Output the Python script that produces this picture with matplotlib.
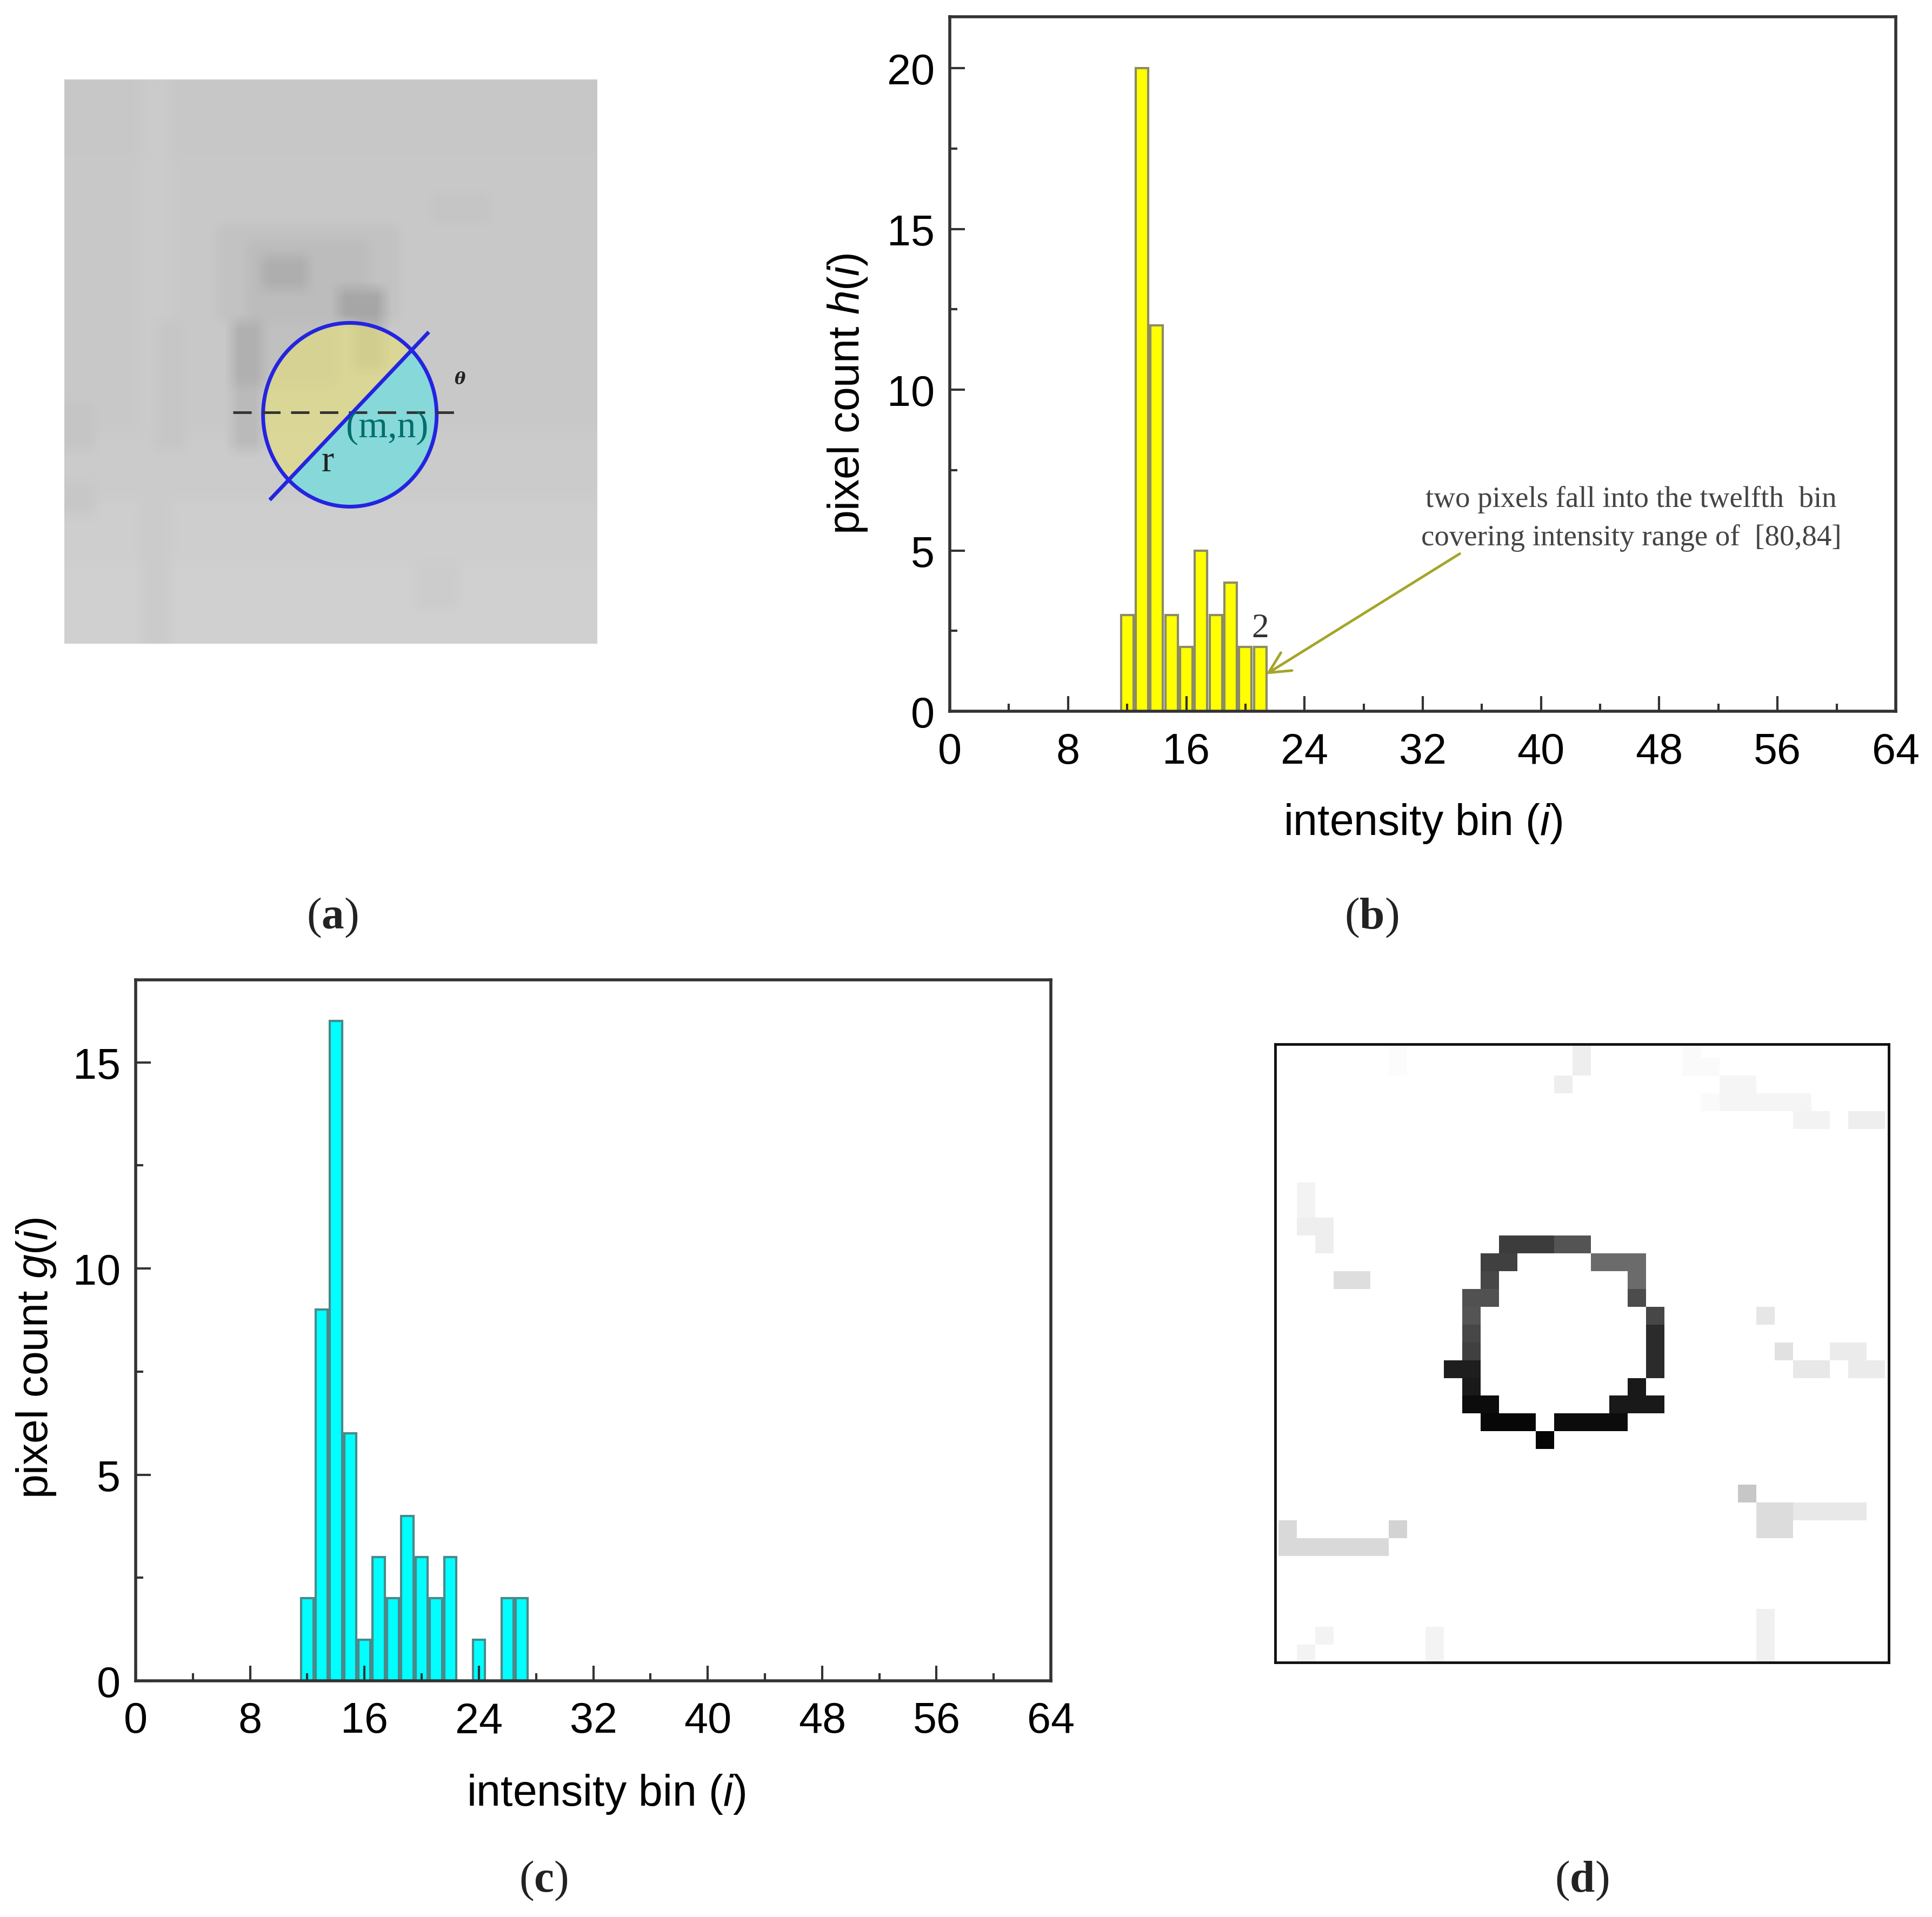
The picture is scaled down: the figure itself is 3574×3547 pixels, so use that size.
import numpy as np
import matplotlib
matplotlib.use('Agg')
import matplotlib.pyplot as plt
from matplotlib.patches import Wedge, Circle

plt.rcParams['font.family'] = ['Liberation Sans', 'DejaVu Sans']
plt.rcParams['mathtext.fontset'] = 'custom'
plt.rcParams['mathtext.rm'] = 'Liberation Sans'
plt.rcParams['mathtext.it'] = 'Liberation Sans:italic'
plt.rcParams['mathtext.bf'] = 'Liberation Serif:bold'

W, H = 3574, 3548

# histogramas
bins_h = [12, 13, 14, 15, 16, 17, 18, 19, 20, 21]
counts_h = [3, 20, 12, 3, 2, 5, 3, 4, 2, 2]
bins_g = [12, 13, 14, 15, 16, 17, 18, 19, 20, 21, 22, 24, 26, 27]
counts_g = [2, 9, 16, 6, 1, 3, 2, 4, 3, 2, 3, 1, 2, 2]
x_ticks = [0, 8, 16, 24, 32, 40, 48, 56, 64]

# imagen (a): fondo gris, bloques (fila0, fila1, col0, col1, gris)
patch_base = 0.785
patches_a = [
    (0, 5, 0, 35, 0.78),
    (22, 26, 0, 35, 0.795),
    (26, 30, 0, 35, 0.805),
    (30, 35, 0, 35, 0.815),
    (0, 35, 5, 7, 0.795),
    (7, 9, 24, 28, 0.77),
    (9, 15, 10, 22, 0.76),
    (10, 15, 12, 20, 0.735),
    (11, 13, 13, 16, 0.68),
    (13, 15, 18, 21, 0.65),
    (15, 19, 11, 13, 0.69),
    (19, 23, 11, 13, 0.73),
    (15, 19, 13, 18, 0.75),
    (15, 18, 19, 21, 0.71),
    (20, 23, 0, 2, 0.77),
    (15, 23, 6, 8, 0.775),
    (25, 27, 0, 2, 0.78),
    (30, 33, 23, 26, 0.80),
]

# imagen (d): bloques (fila, col0, col1, gris)
ring_pixels = [
    (11, 12, 14, 0.24), (11, 15, 16, 0.33),
    (12, 11, 12, 0.25), (12, 17, 19, 0.42),
    (13, 11, 11, 0.28), (13, 19, 19, 0.42),
    (14, 10, 11, 0.32), (14, 19, 19, 0.30),
    (15, 10, 10, 0.33), (15, 20, 20, 0.28),
    (16, 10, 10, 0.28), (16, 20, 20, 0.17),
    (17, 10, 10, 0.25), (17, 20, 20, 0.17),
    (18, 9, 10, 0.12), (18, 20, 20, 0.17),
    (19, 10, 10, 0.10), (19, 19, 19, 0.10),
    (20, 10, 11, 0.05), (20, 18, 20, 0.10),
    (21, 11, 13, 0.03), (21, 15, 18, 0.05),
    (22, 14, 14, 0.02),
]
noise_pixels = [
    (0, 6, 6, 0.985), (1, 6, 6, 0.985),
    (0, 16, 16, 0.93), (1, 16, 16, 0.93), (2, 15, 15, 0.93),
    (0, 22, 22, 0.98), (1, 22, 23, 0.98), (2, 24, 25, 0.96),
    (3, 23, 23, 0.98), (3, 24, 28, 0.96), (4, 28, 29, 0.95), (4, 31, 32, 0.93),
    (8, 1, 1, 0.95), (9, 1, 1, 0.95), (10, 1, 2, 0.93), (11, 2, 2, 0.93),
    (13, 3, 4, 0.87), (15, 26, 26, 0.90), (17, 27, 27, 0.88),
    (17, 30, 31, 0.92), (18, 28, 29, 0.91), (18, 31, 32, 0.92),
    (25, 25, 25, 0.78), (26, 26, 27, 0.86), (26, 28, 31, 0.91), (27, 26, 27, 0.86),
    (27, 0, 0, 0.85), (27, 6, 6, 0.83), (28, 0, 5, 0.85),
    (32, 26, 26, 0.94), (33, 26, 26, 0.94), (34, 26, 26, 0.94),
    (33, 2, 2, 0.95), (34, 1, 1, 0.95), (33, 8, 8, 0.95), (34, 8, 8, 0.95),
]


def px_axes(fig, x0, y0, x1, y1):
    return fig.add_axes([x0 / W, 1 - y1 / H, (x1 - x0) / W, (y1 - y0) / H])


def hist_panel(ax, bins, counts, color, edge, y_top, y_major, y_minor, ylabel, xlabel_x, ylabel_y):
    ax.bar(bins, counts, width=0.85, color=color, edgecolor=edge, linewidth=3, zorder=2)
    ax.set_axisbelow(False)
    ax.set_xlim(0, 64)
    ax.set_ylim(0, y_top)
    ax.set_xticks(x_ticks)
    ax.set_xticks(np.arange(0, 65, 4), minor=True)
    ax.set_yticks(y_major)
    ax.set_yticks(y_minor, minor=True)
    ax.tick_params(which='major', direction='in', length=20, width=3, labelsize=57,
                   color='#333333', top=False, right=False)
    ax.tick_params(which='minor', direction='in', length=10, width=3,
                   color='#333333', top=False, right=False)
    ax.tick_params(axis='x', which='major', pad=27)
    ax.tick_params(axis='y', which='major', pad=20)
    for s in ax.spines.values():
        s.set_linewidth(4)
        s.set_color('#333333')
        s.set_zorder(5)
    ax.set_xlabel('intensity bin ($i$)', fontsize=58, va='top')
    ax.set_ylabel(ylabel, fontsize=58)
    ax.xaxis.set_label_coords(xlabel_x, -0.13)
    ax.yaxis.set_label_coords(-0.085, ylabel_y)


fig = plt.figure(figsize=(W / 100, H / 100), dpi=100, facecolor='white')

# (a)
ax_a = px_axes(fig, 119, 148, 1105, 1192)
img_a = np.full((35, 35), patch_base)
for r0, r1, c0, c1, g in patches_a:
    img_a[r0:r1, c0:c1] = g
ax_a.imshow(img_a, cmap='gray', vmin=0, vmax=1, extent=(0, 35, 35, 0), aspect='auto',
            interpolation='bilinear')
cx, cy, rad = 18.75, 20.8, 5.7
ax_a.add_patch(Wedge((cx, cy), rad, 135, 315, facecolor='#e8e26e', alpha=0.55, linewidth=0))
ax_a.add_patch(Wedge((cx, cy), rad, -45, 135, facecolor='#87d8d8', linewidth=0))
ax_a.plot([11.07, 26.0], [20.65, 20.65], color='#333333', lw=3.5, ls=(0, (7, 4)))
ax_a.add_patch(Circle((cx, cy), rad, fill=False, edgecolor='#2424e0', linewidth=5))
ax_a.plot([cx - 5.18, cx + 5.1], [cy + 5.2, cy - 5.05], color='#2424e0', lw=5)
ax_a.text(21.2, 21.6, '(m,n)', family='Liberation Serif', fontsize=50, color='#006e6e', ha='center', va='center')
ax_a.text(17.3, 23.7, 'r', family='Liberation Serif', fontsize=50, color='#222222', ha='center', va='center')
ax_a.text(26.0, 18.6, '\u03b8', family='DejaVu Serif', style='italic', weight='bold', fontsize=22,
          color='#222222', ha='center', va='center')
ax_a.set_xlim(0, 35)
ax_a.set_ylim(35, 0)
ax_a.axis('off')

# (b)
ax_b = px_axes(fig, 1757, 32, 3507, 1317)
hist_panel(ax_b, bins_h, counts_h, '#ffff00', '#8c8c66', 21.6, [0, 5, 10, 15, 20], np.arange(0, 21, 2.5),
           'pixel count $h$($i$)', 0.5, 0.458)
ax_b.text(21, 2.08, '2', family='Liberation Serif', fontsize=46, color='#333333', ha='center', va='bottom')
ax_b.annotate('', xy=(21.4, 1.15), xytext=(34.5, 4.9),
              arrowprops=dict(arrowstyle='->,head_length=0.7,head_width=0.35', color='#a5a52a', lw=3.5,
                              mutation_scale=40, shrinkA=0, shrinkB=0))
ax_b.text(46.1, 6.6, 'two pixels fall into the twelfth  bin', family='Liberation Serif', fontsize=39.5,
          color='#444444', ha='center', va='center')
ax_b.text(46.1, 5.4, 'covering intensity range of  [80,84]', family='Liberation Serif', fontsize=39.5,
          color='#444444', ha='center', va='center')

# (c)
ax_c = px_axes(fig, 251, 1814, 1944, 3111)
hist_panel(ax_c, bins_g, counts_g, '#00ffff', '#4a8a8a', 17, [0, 5, 10, 15], np.arange(0, 17, 2.5),
           'pixel count $g$($i$)', 0.514, 0.461)

# (d)
ax_d = px_axes(fig, 2359, 1933, 3494, 3077)
img_d = np.ones((35, 34))
for r, c0, c1, g in ring_pixels + noise_pixels:
    img_d[r, c0:c1 + 1] = g
ax_d.imshow(img_d, cmap='gray', vmin=0, vmax=1, aspect='auto', interpolation='nearest')
ax_d.set_xlim(-0.68, 32.7)
ax_d.set_ylim(34.5, -0.27)
ax_d.set_xticks([])
ax_d.set_yticks([])
for s in ax_d.spines.values():
    s.set_linewidth(3.5)
    s.set_color('#111111')

# etiquetas de panel
captions = ['($\\mathbf{a}$)', '($\\mathbf{b}$)', '($\\mathbf{c}$)', '($\\mathbf{d}$)']
caption_x = [615, 2537, 1005, 2926]
caption_y = [1698, 1698, 3480, 3480]
for c, x, y in zip(captions, caption_x, caption_y):
    fig.text(x / W, 1 - y / H, c, family='Liberation Serif', fontsize=60, color='#222222',
             ha='center', va='center')

fig.savefig('out.png', dpi=100)
